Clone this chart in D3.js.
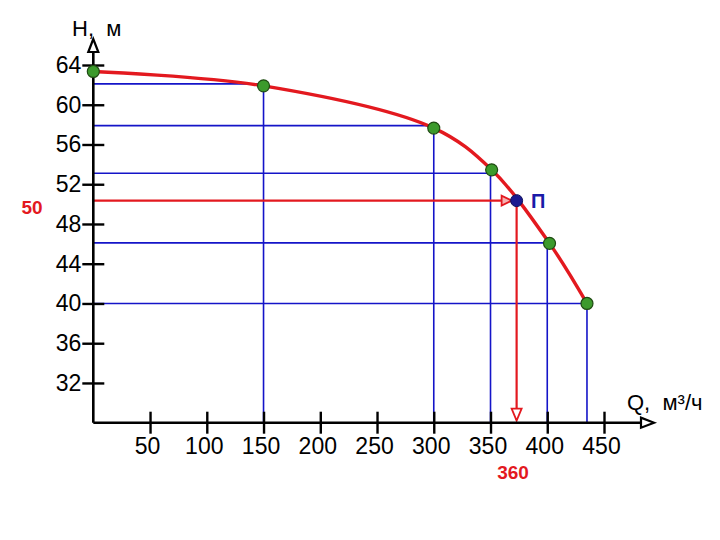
<!DOCTYPE html>
<html><head><meta charset="utf-8">
<script src="https://cdn.jsdelivr.net/npm/d3@7"></script>
<style>
html,body{margin:0;padding:0;background:#fff;}
text{font-family:"Liberation Sans",Arial,sans-serif;}
</style></head>
<body><svg id="c" width="720" height="540"></svg>
<script>
// ---- data ----
const pointQ = [0, 150, 300, 351, 402, 435];
const pointH = [63.35, 61.9, 57.65, 53.45, 46.05, 40.0];
const gridQ = [150, 300, 350, 400, 435];
const gridH = [62.1, 57.9, 53.1, 46.1, 40.0];
const opQ = 373;
const opH = 50.35;
const opLabelQ = "360";
const opLabelH = "50";
const opName = "П";
const xTicks = [50, 100, 150, 200, 250, 300, 350, 400, 450];
const yTicks = [32, 36, 40, 44, 48, 52, 56, 60, 64];
const xTitle = "Q,  м³/ч";
const yTitle = "H,  м";

// ---- layout ----
const svg = d3.select("#c");
const x = d3.scaleLinear().domain([0, 450]).range([93.3, 604]);
const y = d3.scaleLinear().domain([28, 64]).range([422.7, 65]);
const RED = "#e3191f", BLUE = "#1414c8", GREEN = "#3c9a2c";

// guide lines (blue)
const g = svg.append("g");
gridQ.forEach((q, i) => {
  g.append("line").attr("x1", x(0)).attr("x2", x(q)).attr("y1", y(gridH[i])).attr("y2", y(gridH[i]))
    .attr("stroke", BLUE).attr("stroke-width", 1.6);
  g.append("line").attr("x1", x(q)).attr("x2", x(q)).attr("y1", y(gridH[i])).attr("y2", y(28))
    .attr("stroke", BLUE).attr("stroke-width", 1.6);
});

// red operating lines
svg.append("line").attr("x1", x(0)).attr("x2", x(opQ) - 6).attr("y1", y(opH)).attr("y2", y(opH))
  .attr("stroke", RED).attr("stroke-width", 2.2);
svg.append("line").attr("x1", x(opQ)).attr("x2", x(opQ)).attr("y1", y(opH)).attr("y2", y(28) - 3)
  .attr("stroke", RED).attr("stroke-width", 2.2);
// arrowheads
const hx = x(opQ) - 5, hy = y(opH);
svg.append("path").attr("d", `M${hx},${hy} L${hx-10},${hy-5} L${hx-10},${hy+5} Z`)
  .attr("fill", "#f6b0b0").attr("stroke", RED).attr("stroke-width", 1.8);
const vx = x(opQ), vy = y(28) - 2;
svg.append("path").attr("d", `M${vx},${vy} L${vx-5},${vy-12} L${vx+5},${vy-12} Z`)
  .attr("fill", "#fff").attr("stroke", RED).attr("stroke-width", 1.8);

// axes
const xAxis = svg.append("g").attr("transform", `translate(0,${y(28)})`)
  .call(d3.axisBottom(x).tickValues(xTicks).tickSize(11).tickPadding(4));
const yAxis = svg.append("g").attr("transform", `translate(${x(0)},0)`)
  .call(d3.axisLeft(y).tickValues(yTicks).tickSize(11).tickPadding(1));
[xAxis, yAxis].forEach(a => {
  a.attr("font-size", 23).attr("font-family", '"Liberation Sans",Arial,sans-serif');
  a.select(".domain").remove();
  a.selectAll(".tick line").attr("stroke", "#000").attr("stroke-width", 2.4);
  a.selectAll(".tick text").attr("font-size", 23).attr("fill", "#000");
});
xAxis.selectAll(".tick line").attr("y1", -11).attr("y2", 11);
yAxis.selectAll(".tick line").attr("x1", -11).attr("x2", 11);
xAxis.selectAll(".tick text").attr("dx", -3);

// axis lines with open arrows
svg.append("line").attr("x1", x(0)).attr("x2", 644).attr("y1", y(28)).attr("y2", y(28))
  .attr("stroke", "#000").attr("stroke-width", 2.6);
svg.append("line").attr("x1", x(0)).attr("x2", x(0)).attr("y1", y(28)).attr("y2", 50)
  .attr("stroke", "#000").attr("stroke-width", 2.6);
svg.append("path").attr("d", `M654,${y(28)} L641,${y(28)-5} L641,${y(28)+5} Z`)
  .attr("fill", "#fff").attr("stroke", "#000").attr("stroke-width", 2.2);
svg.append("path").attr("d", `M${x(0)},39 L${x(0)-5},52 L${x(0)+5},52 Z`)
  .attr("fill", "#fff").attr("stroke", "#000").attr("stroke-width", 2.2);

// titles
svg.append("text").attr("x", 72).attr("y", 36).attr("font-size", 22).attr("fill", "#000")
  .style("white-space", "pre").text(yTitle);
svg.append("text").attr("x", 627).attr("y", 410).attr("font-size", 22).attr("fill", "#000")
  .style("white-space", "pre").text(xTitle);

// pump curve
const pts = pointQ.map((q, i) => [x(q), y(pointH[i])]);
svg.append("path").attr("d", d3.line().curve(d3.curveCatmullRom.alpha(0.5))(pts))
  .attr("fill", "none").attr("stroke", RED).attr("stroke-width", 3.4);

// points
svg.selectAll("circle.p").data(pts).enter().append("circle")
  .attr("cx", d => d[0]).attr("cy", d => d[1]).attr("r", 6)
  .attr("fill", GREEN).attr("stroke", "#1f4a12").attr("stroke-width", 1.2);
svg.append("circle").attr("cx", x(opQ)).attr("cy", y(opH)).attr("r", 6)
  .attr("fill", "#1a1a90").attr("stroke", "#10105a").attr("stroke-width", 1);

// labels
svg.append("text").attr("x", 531).attr("y", y(opH) + 7).attr("font-size", 20).attr("font-weight", "bold")
  .attr("fill", "#1a1aa8").text(opName);
svg.append("text").attr("x", 32).attr("y", 214).attr("text-anchor", "middle").attr("font-size", 19)
  .attr("font-weight", "bold").attr("fill", RED).text(opLabelH);
svg.append("text").attr("x", 513).attr("y", 479).attr("text-anchor", "middle").attr("font-size", 19)
  .attr("font-weight", "bold").attr("fill", RED).text(opLabelQ);
</script></body></html>
